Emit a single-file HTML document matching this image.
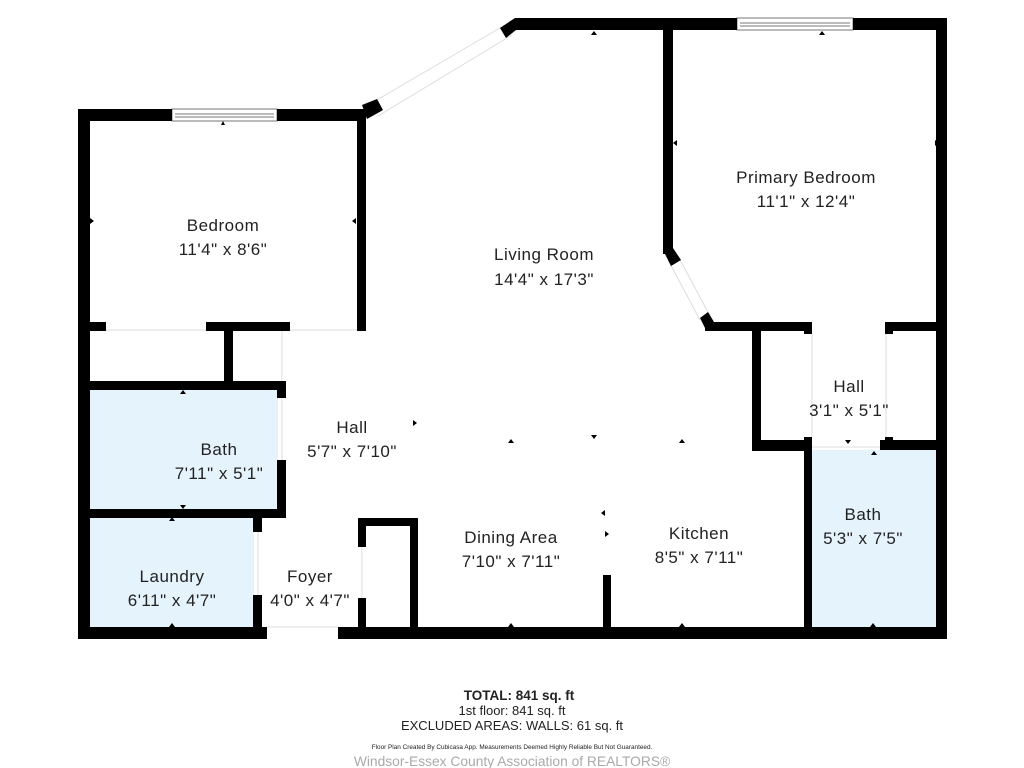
<!DOCTYPE html>
<html><head><meta charset="utf-8"><style>
html,body{margin:0;padding:0;background:#fff;}
svg{display:block;}
text{font-family:"Liberation Sans",sans-serif;fill:#222;text-anchor:middle;}
</style></head><body>
<svg width="1024" height="768" viewBox="0 0 1024 768" xmlns="http://www.w3.org/2000/svg">
<rect width="1024" height="768" fill="#fff"/>
<rect x="90" y="390" width="188" height="120" fill="#e5f3fd"/>
<rect x="90" y="517" width="164" height="110" fill="#e5f3fd"/>
<rect x="812" y="450" width="124" height="177" fill="#e5f3fd"/>
<g stroke="#ddd" stroke-width="1" fill="none">
<line x1="105" y1="330" x2="206" y2="330"/>
<line x1="290" y1="330" x2="358" y2="330"/>
<line x1="282" y1="330" x2="282" y2="382"/>
<line x1="282" y1="398" x2="282" y2="460"/>
<line x1="258" y1="532" x2="258" y2="595"/>
<line x1="362" y1="547" x2="362" y2="598"/>
<line x1="267" y1="627" x2="338" y2="627"/>
<line x1="812" y1="333" x2="812" y2="437"/>
<line x1="886" y1="333" x2="886" y2="437"/>
<line x1="812" y1="447" x2="880" y2="447"/>
<line x1="370" y1="104" x2="505" y2="25"/>
<line x1="378" y1="116" x2="512" y2="35"/>
<line x1="668" y1="260" x2="700" y2="320"/>
<line x1="678" y1="256" x2="710" y2="316"/>
</g>
<g stroke="#777" stroke-width="1" fill="#fff">
<rect x="172" y="109" width="105" height="12"/>
<line x1="175" y1="114" x2="274" y2="114"/>
<line x1="175" y1="117" x2="274" y2="117"/>
<rect x="737" y="18" width="116" height="12"/>
<line x1="740" y1="23" x2="850" y2="23"/>
<line x1="740" y1="26" x2="850" y2="26"/>
</g>
<g fill="#000">
<rect x="78" y="109" width="94" height="12"/>
<rect x="277" y="109" width="88" height="12"/>
<rect x="78" y="109" width="12" height="530"/>
<rect x="357" y="109" width="9" height="222"/>
<polygon points="362,105 377,99 383,110 367,119"/>
<polygon points="500,28 515,18 522,18 522,30 516,30 506,38"/>
<rect x="520" y="18" width="217" height="12"/>
<rect x="853" y="18" width="94" height="12"/>
<rect x="936" y="18" width="11" height="621"/>
<rect x="663" y="18" width="10" height="236"/>
<polygon points="663,250 673,248 681,260 671,266"/>
<polygon points="700,318 708,312 714,322 706,330"/>
<rect x="705" y="322" width="107" height="9"/>
<rect x="752" y="322" width="9" height="129"/>
<rect x="804" y="322" width="8" height="12"/>
<rect x="885" y="322" width="62" height="9"/>
<rect x="885" y="322" width="8" height="12"/>
<rect x="752" y="440" width="60" height="11"/>
<rect x="804" y="437" width="8" height="202"/>
<rect x="880" y="440" width="67" height="10"/>
<rect x="885" y="437" width="8" height="12"/>
<rect x="78" y="627" width="189" height="12"/>
<rect x="338" y="627" width="609" height="12"/>
<rect x="78" y="322" width="28" height="9"/>
<rect x="206" y="322" width="84" height="9"/>
<rect x="224" y="322" width="9" height="62"/>
<rect x="277" y="322" width="9" height="8"/>
<rect x="78" y="381" width="208" height="9"/>
<rect x="277" y="381" width="9" height="17"/>
<rect x="277" y="460" width="9" height="57"/>
<rect x="78" y="509" width="208" height="9"/>
<rect x="253" y="509" width="9" height="23"/>
<rect x="253" y="595" width="9" height="40"/>
<rect x="358" y="518" width="60" height="8"/>
<rect x="358" y="518" width="8" height="29"/>
<rect x="358" y="598" width="8" height="30"/>
<rect x="410" y="518" width="8" height="110"/>
<rect x="603" y="575" width="8" height="53"/>
</g>
<g fill="#000">
<polygon points="221,125 225,125 223,121"/>
<polygon points="591,35 597,35 594,31"/>
<polygon points="819,35 825,35 822,31"/>
<polygon points="90,218 90,224 94,221"/>
<polygon points="356,218 356,224 352,221"/>
<polygon points="677,140 677,146 673,143"/>
<polygon points="935,140 935,146 939,143"/>
<polygon points="508,443 514,443 511,439"/>
<polygon points="591,435 597,435 594,439"/>
<polygon points="679,443 685,443 682,439"/>
<polygon points="413,420 413,426 417,423"/>
<polygon points="169,627 175,627 172,623"/>
<polygon points="508,627 514,627 511,623"/>
<polygon points="679,627 685,627 682,623"/>
<polygon points="870,627 876,627 873,623"/>
<polygon points="845,440 851,440 848,444"/>
<polygon points="871,455 877,455 874,451"/>
<polygon points="180,394 186,394 183,390"/>
<polygon points="180,505 186,505 183,509"/>
<polygon points="169,521 175,521 172,517"/>
<polygon points="605,510 605,516 601,513"/>
<polygon points="605,531 605,537 609,534"/>
</g>
<g font-size="17" style="letter-spacing:0.5px">
<text x="223" y="231">Bedroom</text><text x="223" y="255">11'4" x 8'6"</text>
<text x="544" y="260">Living Room</text><text x="544" y="285">14'4" x 17'3"</text>
<text x="806" y="183">Primary Bedroom</text><text x="806" y="207">11'1" x 12'4"</text>
<text x="849" y="392">Hall</text><text x="849" y="416">3'1" x 5'1"</text>
<text x="352" y="433">Hall</text><text x="352" y="457">5'7" x 7'10"</text>
<text x="219" y="455">Bath</text><text x="219" y="479">7'11" x 5'1"</text>
<text x="172" y="582">Laundry</text><text x="172" y="606">6'11" x 4'7"</text>
<text x="310" y="582">Foyer</text><text x="310" y="606">4'0" x 4'7"</text>
<text x="511" y="543">Dining Area</text><text x="511" y="567">7'10" x 7'11"</text>
<text x="699" y="539">Kitchen</text><text x="699" y="563">8'5" x 7'11"</text>
<text x="863" y="520">Bath</text><text x="863" y="544">5'3" x 7'5"</text>
</g>
<text x="519" y="700" font-size="13.5" font-weight="bold" fill="#000">TOTAL: 841 sq. ft</text>
<text x="512" y="715" font-size="13">1st floor: 841 sq. ft</text>
<text x="512" y="730" font-size="13">EXCLUDED AREAS: WALLS: 61 sq. ft</text>
<text x="512" y="749" font-size="6.4">Floor Plan Created By Cubicasa App. Measurements Deemed Highly Reliable But Not Guaranteed.</text>
<text x="512" y="766" font-size="13.8" style="fill:#aaa">Windsor-Essex County Association of REALTORS®</text>
</svg>
</body></html>
